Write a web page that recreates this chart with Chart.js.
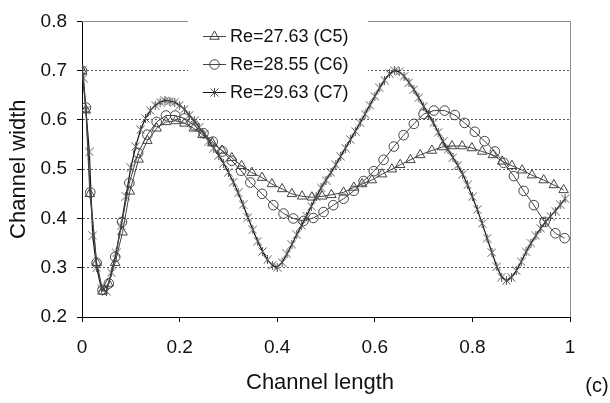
<!DOCTYPE html>
<html lang="en">
<head>
<meta charset="UTF-8">
<title>Channel width along the channel</title>
<style>
  html, body { margin: 0; padding: 0; background: #fff; }
  .chart-box { position: relative; width: 610px; height: 403px; }
</style>
</head>
<body>
<div class="chart-box"><canvas id="widthChart"></canvas></div>

<script src="https://cdn.jsdelivr.net/npm/chart.js"></script>
<script>
// Channel length positions and widths for each Reynolds number
const seriesLabels = ['Re=27.63 (C5)', 'Re=28.55 (C6)', 'Re=29.63 (C7)'];

const lengthC5 = [0, 0.008, 0.016, 0.03, 0.042, 0.054, 0.068, 0.083, 0.098, 0.116,
  0.134, 0.153, 0.172, 0.192, 0.21, 0.229, 0.247, 0.267, 0.287, 0.307,
  0.327, 0.348, 0.369, 0.389, 0.41, 0.43, 0.451, 0.471, 0.492, 0.511,
  0.536, 0.557, 0.574, 0.594, 0.615, 0.635, 0.652, 0.673, 0.693, 0.717,
  0.738, 0.758, 0.779, 0.799, 0.82, 0.842, 0.861, 0.881, 0.902, 0.922,
  0.946, 0.967, 0.987];
const widthC5 = [0.70, 0.62, 0.45, 0.31, 0.252, 0.268, 0.31, 0.372, 0.455, 0.52,
  0.558, 0.583, 0.596, 0.598, 0.593, 0.583, 0.57, 0.553, 0.538, 0.523,
  0.507, 0.493, 0.483, 0.47, 0.46, 0.45, 0.445, 0.443, 0.445, 0.448,
  0.453, 0.463, 0.47, 0.478, 0.49, 0.50, 0.509, 0.519, 0.529, 0.538,
  0.545, 0.547, 0.547, 0.543, 0.536, 0.529, 0.516, 0.507, 0.498, 0.488,
  0.478, 0.468, 0.458];

const lengthC6 = [0, 0.008, 0.017, 0.03, 0.042, 0.055, 0.068, 0.082, 0.097, 0.115,
  0.134, 0.153, 0.172, 0.191, 0.21, 0.23, 0.249, 0.268, 0.288, 0.307,
  0.326, 0.345, 0.369, 0.392, 0.413, 0.433, 0.454, 0.474, 0.495, 0.515,
  0.536, 0.557, 0.577, 0.598, 0.618, 0.639, 0.659, 0.68, 0.70, 0.721,
  0.743, 0.764, 0.784, 0.805, 0.825, 0.846, 0.864, 0.885, 0.905, 0.926,
  0.948, 0.97, 0.989];
const widthC6 = [0.70, 0.625, 0.453, 0.31, 0.255, 0.268, 0.322, 0.393, 0.472, 0.533,
  0.57, 0.596, 0.609, 0.609, 0.603, 0.589, 0.573, 0.556, 0.536, 0.517,
  0.497, 0.473, 0.45, 0.427, 0.41, 0.40, 0.395, 0.401, 0.413, 0.427,
  0.44, 0.456, 0.476, 0.496, 0.519, 0.546, 0.569, 0.592, 0.612, 0.619,
  0.619, 0.61, 0.594, 0.576, 0.557, 0.536, 0.513, 0.486, 0.456, 0.427,
  0.393, 0.37, 0.36];

const lengthC7 = [0, 0.003, 0.008, 0.015, 0.022,
  0.03, 0.04, 0.05, 0.06, 0.07, 0.08, 0.09, 0.10, 0.11, 0.12,
  0.13, 0.14, 0.15, 0.16, 0.17, 0.18, 0.19, 0.20, 0.21, 0.22,
  0.23, 0.24, 0.25, 0.26, 0.27, 0.28, 0.29, 0.30, 0.31, 0.32,
  0.33, 0.34, 0.35, 0.36, 0.37, 0.38, 0.39, 0.40, 0.41, 0.42,
  0.43, 0.44, 0.45, 0.46, 0.47, 0.48, 0.49, 0.50, 0.51, 0.52,
  0.53, 0.54, 0.55, 0.56, 0.57, 0.58, 0.59, 0.60, 0.61, 0.62,
  0.63, 0.64, 0.65, 0.66, 0.67, 0.68, 0.69, 0.70, 0.71, 0.72,
  0.73, 0.74, 0.75, 0.76, 0.77, 0.78, 0.79, 0.80, 0.81, 0.82,
  0.83, 0.84, 0.85, 0.86, 0.87, 0.88, 0.89, 0.90, 0.91, 0.92,
  0.93, 0.94, 0.95, 0.96, 0.97, 0.98, 0.99];
const widthC7 = [0.70, 0.685, 0.62, 0.535, 0.365,
  0.30, 0.257, 0.252, 0.29, 0.33, 0.385, 0.445, 0.503, 0.546, 0.58,
  0.603, 0.619, 0.63, 0.636, 0.639, 0.638, 0.636, 0.63, 0.622, 0.61,
  0.598, 0.585, 0.571, 0.557, 0.543, 0.528, 0.512, 0.494, 0.474, 0.452,
  0.428, 0.402, 0.377, 0.354, 0.333, 0.316, 0.305, 0.301, 0.311, 0.328,
  0.347, 0.367, 0.386, 0.405, 0.425, 0.444, 0.462, 0.478, 0.493, 0.509,
  0.526, 0.543, 0.56, 0.577, 0.594, 0.612, 0.63, 0.648, 0.665, 0.681,
  0.694, 0.70, 0.698, 0.689, 0.676, 0.662, 0.645, 0.628, 0.611, 0.594,
  0.575, 0.556, 0.54, 0.524, 0.508, 0.49, 0.468, 0.444, 0.418, 0.39,
  0.36, 0.331, 0.302, 0.281, 0.274, 0.28, 0.294, 0.312, 0.332, 0.35,
  0.365, 0.38, 0.393, 0.405, 0.415, 0.428, 0.44];

const xTickLabels = ['0', '0.2', '0.4', '0.6', '0.8', '1'];
const yTickLabels = ['0.2', '0.3', '0.4', '0.5', '0.6', '0.7', '0.8'];

const FONT = '"Liberation Sans", Arial, sans-serif';

// asterisk marker: an X with a vertical stroke
function asteriskMarker(size, color) {
  const c = document.createElement('canvas');
  c.width = size; c.height = size;
  const g = c.getContext('2d');
  g.strokeStyle = color;
  g.lineWidth = 1;
  g.beginPath();
  g.moveTo(0.5, 0.5); g.lineTo(size - 0.5, size - 0.5);
  g.moveTo(size - 0.5, 0.5); g.lineTo(0.5, size - 0.5);
  g.moveTo(size / 2, 0); g.lineTo(size / 2, size);
  g.stroke();
  return c;
}

function toPoints(xs, ys) {
  return xs.map((x, i) => ({ x: x, y: ys[i] }));
}

const clear = 'rgba(255,255,255,0)';

const decor = {
  id: 'decor',
  beforeDatasetsDraw(chart) {
    const { ctx, chartArea: a } = chart;
    ctx.save();
    // grey top and right edge of the plot area
    ctx.strokeStyle = '#8c8c8c';
    ctx.lineWidth = 1;
    ctx.beginPath();
    ctx.moveTo(a.left, Math.round(a.top) + 0.5);
    ctx.lineTo(Math.round(a.right) + 0.5, Math.round(a.top) + 0.5);
    ctx.lineTo(Math.round(a.right) + 0.5, a.bottom);
    ctx.stroke();

    // legend block inside the plot
    ctx.fillStyle = '#fff';
    ctx.fillRect(188, 21, 180, 84);
    chart.data.datasets.forEach((ds, i) => {
      const y = 36.5 + i * 28;
      ctx.strokeStyle = ds.borderColor;
      ctx.lineWidth = 1;
      ctx.beginPath();
      ctx.moveTo(203, y); ctx.lineTo(226, y);
      ctx.stroke();
      ctx.strokeStyle = ds.pointBorderColor;
      ctx.fillStyle = clear;
      Chart.helpers.drawPoint(ctx, {
        pointStyle: ds.pointStyle, radius: ds.pointRadius, rotation: 0, borderWidth: 1
      }, 214.5, y);
      ctx.fillStyle = '#111';
      ctx.font = '18px ' + FONT;
      ctx.textBaseline = 'middle';
      ctx.textAlign = 'left';
      ctx.fillText(ds.label, 230, y + 1);
    });
    ctx.restore();
  },
  afterDraw(chart) {
    const { ctx, chartArea: a } = chart;
    ctx.save();
    ctx.fillStyle = '#111';
    ctx.textBaseline = 'middle';
    ctx.textAlign = 'center';
    ctx.font = '22px ' + FONT;
    ctx.fillText('Channel length', 320, 383);
    ctx.font = '20px ' + FONT;
    ctx.fillText('(c)', 597, 386);
    ctx.translate(19, (a.top + a.bottom) / 2);
    ctx.rotate(-Math.PI / 2);
    ctx.font = '22px ' + FONT;
    ctx.fillText('Channel width', 0, 0);
    ctx.restore();
  }
};

new Chart(document.getElementById('widthChart'), {
  type: 'scatter',
  data: {
    datasets: [
      {
        label: seriesLabels[0],
        data: toPoints(lengthC5, widthC5),
        showLine: true,
        borderColor: '#444',
        borderWidth: 1,
        pointStyle: 'triangle',
        pointRadius: 5.5,
        pointBorderColor: '#444',
        pointBackgroundColor: clear,
        pointBorderWidth: 1
      },
      {
        label: seriesLabels[1],
        data: toPoints(lengthC6, widthC6),
        showLine: true,
        borderColor: '#444',
        borderWidth: 1,
        pointStyle: 'circle',
        pointRadius: 4.8,
        pointBorderColor: '#444',
        pointBackgroundColor: clear,
        pointBorderWidth: 1
      },
      {
        label: seriesLabels[2],
        data: toPoints(lengthC7, widthC7),
        showLine: true,
        borderColor: '#111',
        borderWidth: 1.2,
        pointStyle: asteriskMarker(9, '#555'),
        pointRadius: 4.5,
        pointBorderColor: '#555',
        pointBackgroundColor: clear,
        pointBorderWidth: 1
      }
    ]
  },
  options: {
    responsive: true,
    maintainAspectRatio: false,
    animation: false,
    layout: { padding: { top: 15, right: 40, left: 0, bottom: 0 } },
    plugins: {
      legend: { display: false },
      tooltip: { enabled: false }
    },
    scales: {
      x: {
        type: 'linear',
        min: 0,
        max: 1,
        afterFit(scale) { scale.height = 86; },
        ticks: {
          stepSize: 0.2,
          padding: 14,
          maxRotation: 0,
          color: '#111',
          font: { family: FONT, size: 19 },
          callback: (v, i) => xTickLabels[i]
        },
        grid: {
          drawOnChartArea: false,
          tickLength: 5,
          tickColor: '#000'
        },
        border: { color: '#000', width: 1 }
      },
      y: {
        min: 0.2,
        max: 0.8,
        afterFit(scale) { scale.width = 82; },
        ticks: {
          stepSize: 0.1,
          padding: 10,
          color: '#111',
          font: { family: FONT, size: 19 },
          callback: (v, i) => yTickLabels[i]
        },
        grid: {
          color: ctx => (ctx.index === 0 || ctx.index === yTickLabels.length - 1) ? clear : '#555',
          tickLength: 5,
          tickColor: '#000'
        },
        border: { color: '#000', width: 1, dash: [2, 2] }
      }
    }
  },
  plugins: [decor]
});
</script>
</body>
</html>
